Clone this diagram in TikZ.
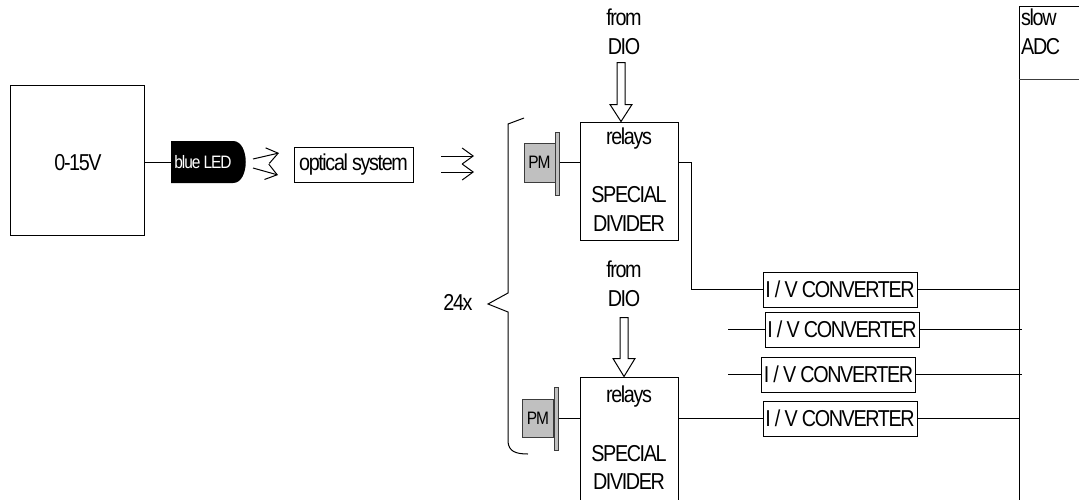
\documentclass[tikz,border=0pt]{standalone}
\usepackage{fontspec}
\setmainfont[FakeStretch=0.86,LetterSpace=-6]{Liberation Sans}
\usetikzlibrary{arrows.meta,calc}
\definecolor{pmgray}{RGB}{192,192,192}
\definecolor{edgegray}{RGB}{60,60,60}
\tikzset{
  txt/.style={inner sep=0pt, font=\fontsize{23}{28.5}\selectfont, align=center},
  smalltxt/.style={inner sep=0pt, font=\fontsize{18}{22}\selectfont},
  box/.style={draw, line width=1pt, inner sep=0pt},
  conv/.style={box, minimum width=154pt, minimum height=35pt, font=\fontsize{23}{28}\selectfont},
  wire/.style={line width=1pt},
  barb/.style={line width=1pt, -{Straight Barb[length=11pt,width=16pt]}},
  hollow/.style={draw, line width=1pt, fill=white, line join=miter},
  pmbox/.style={draw=edgegray, fill=pmgray, line width=1pt, inner sep=0pt, font=\fontsize{18}{22}\selectfont},
  plate/.style={draw=edgegray, fill=pmgray, line width=1pt, inner sep=0pt, minimum width=4pt},
}
\begin{document}
\begin{tikzpicture}[x=1pt, y=-1pt]
\useasboundingbox (0,0) rectangle (1079,499);
\clip (0,0) rectangle (1079,499);

% power supply
\node[box, txt, minimum width=134pt, minimum height=150pt] (psu) at (77,160) {};
\node[txt] (psutxt) at (78,163) {0-15V};

% LED
\fill (171,141) -- (233,141) .. controls (250,141) and (250,183) .. (233,183) -- (171,183) -- cycle;
\node[inner sep=0pt, minimum width=75pt, minimum height=42pt] (led) at (208.5,162) {};
\node[smalltxt, text=white] (ledtxt) at (203,162) {blue LED};
\draw[wire] (led.west -| psu.east) -- (led.west);

% light arrows from LED
\coordinate (la1s) at (253,159);
\coordinate (la1e) at (279,153);
\coordinate (la2s) at (253,168);
\coordinate (la2e) at (278,175);
\draw[barb] (la1s) -- (la1e);
\draw[barb] (la2s) -- (la2e);

% optical system
\node[box, minimum width=119pt, minimum height=35pt, font=\fontsize{23}{28}\selectfont] (opt) at (353.5,164.5) {optical system};

% light arrows to PMs
\coordinate (lb1s) at (441,156);
\coordinate (lb1e) at (474,156);
\coordinate (lb2s) at (441,172);
\coordinate (lb2e) at (474,172);
\draw[barb] (lb1s) -- (lb1e);
\draw[barb] (lb2s) -- (lb2e);

% brace and 24x
\draw[wire] (524,118) -- (508,124) -- (508,293) -- (488,304) -- (508,312) -- (508,442) .. controls (509,451) and (515,454) .. (528,454);
\node[txt] (n24) at (458,302) {24x};

% ---- first channel
\node[box, minimum width=98pt, minimum height=118pt] (r1) at (629,181) {};
\node[txt] (r1a) at (629,139) {relays};
\node[txt] (r1b) at (629,195) {SPECIAL};
\node[txt] (r1c) at (629,224) {DIVIDER};
\node[txt] (dio1) at (624,32) {from\\DIO};
\coordinate (t1) at ([xshift=-8pt]r1.north);
\draw[hollow] (t1) -- ++(-11,-17) -- ++(7,0) -- ++(0,-42) -- ++(8,0) -- ++(0,42) -- ++(7,0) -- cycle;
\node[pmbox, minimum width=31pt, minimum height=39pt] (pm1) at (539.5,162.5) {PM};
\node[plate, minimum height=63pt] (pl1) at (557,163.5) {};
\draw[wire] (pl1.east |- pm1) -- (pm1 -| r1.west);

% ---- second channel
\node[box, minimum width=98pt, minimum height=150pt] (r2) at (629,452) {};
\node[txt] (r2a) at (629,397) {relays};
\node[txt] (r2b) at (629,454) {SPECIAL};
\node[txt] (r2c) at (629,482) {DIVIDER};
\node[txt] (dio2) at (624,284) {from\\DIO};
\coordinate (t2) at ([xshift=-5pt]r2.north);
\draw[hollow] (t2) -- ++(-11,-18) -- ++(7,0) -- ++(0,-41) -- ++(8,0) -- ++(0,41) -- ++(7,0) -- cycle;
\node[pmbox, minimum width=31pt, minimum height=38pt] (pm2) at (538,418.5) {PM};
\node[plate, minimum height=63pt] (pl2) at (556,418.5) {};
\draw[wire] (pl2.east |- pm2) -- (pm2 -| r2.west);

% ---- slow ADC
\node[draw, line width=1pt, inner sep=0pt, anchor=north west, minimum width=90pt, minimum height=520pt] (adc) at (1019,6) {};
\draw[line width=1pt, draw=edgegray] (1019,79) -- (1079,79);
\node[txt, align=left, anchor=north west] (adctxt) at (1021,9) {slow\\ADC};

% ---- I/V converters
\node[conv] (c1) at (840,289.5) {I / V CONVERTER};
\node[conv] (c2) at (842,329.5) {I / V CONVERTER};
\node[conv] (c3) at (838.5,374.5) {I / V CONVERTER};
\node[conv] (c4) at (840,418.5) {I / V CONVERTER};

\draw[wire] (pm1 -| r1.east) -- ++(13,0) |- (c1.west);
\coordinate (c2in) at (728,329.5);
\coordinate (c3in) at (728,374.5);
\draw[wire] (c2in) -- (c2.west);
\draw[wire] (c3in) -- (c3.west);
\draw[wire] (pm2 -| r2.east) -- (c4.west);

\draw[wire] (c1.east) -- (c1.east -| adc.west);
\draw[wire] (c2.east) -- ([xshift=3pt]c2.east -| adc.west);
\draw[wire] (c3.east) -- ([xshift=3pt]c3.east -| adc.west);
\draw[wire] (c4.east) -- (c4.east -| adc.west);
\end{tikzpicture}
\end{document}
